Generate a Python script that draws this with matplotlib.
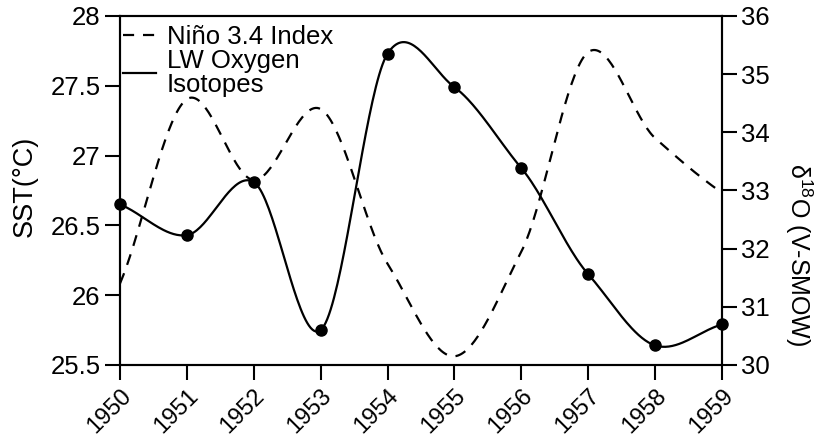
import numpy as np
import matplotlib
matplotlib.use("Agg")
import matplotlib.pyplot as plt

plt.rcParams['font.family'] = ['Liberation Sans', 'DejaVu Sans']

years = [1950, 1951, 1952, 1953, 1954, 1955, 1956, 1957, 1958, 1959]
# SST (left axis), plotted with dots
sst = [26.65, 26.43, 26.81, 25.75, 27.73, 27.49, 26.91, 26.15, 25.64, 25.79]
# delta 18O (right axis), dashed
d18o = [31.40, 34.57, 33.18, 34.40, 31.74, 30.15, 31.95, 35.38, 33.90, 32.96]


def smooth(x, y, n=40, k=0.85):
    # cardinal spline between the yearly points (k scales the tangents)
    x = np.asarray(x, float)
    y = np.asarray(y, float)
    m = np.zeros_like(y)
    m[1:-1] = (y[2:] - y[:-2]) / (x[2:] - x[:-2])
    m[0] = (y[1] - y[0]) / (x[1] - x[0])
    m[-1] = (y[-1] - y[-2]) / (x[-1] - x[-2])
    m = m * k
    xs, ys = [], []
    for i in range(len(x) - 1):
        h = x[i + 1] - x[i]
        t = np.linspace(0, 1, n, endpoint=(i == len(x) - 2))
        h00 = 2 * t**3 - 3 * t**2 + 1
        h10 = t**3 - 2 * t**2 + t
        h01 = -2 * t**3 + 3 * t**2
        h11 = t**3 - t**2
        xs.append(x[i] + t * h)
        ys.append(h00 * y[i] + h10 * h * m[i] + h01 * y[i + 1] + h11 * h * m[i + 1])
    return np.concatenate(xs), np.concatenate(ys)


fig = plt.figure(figsize=(8.19, 4.37), dpi=100)
ax = fig.add_axes([0.1465, 0.1648, 0.7351, 0.7986])
ax2 = ax.twinx()

xs, ys = smooth(years, sst)
l1, = ax.plot(xs, ys, color='black', lw=1.6)
ax.plot(years, sst, 'o', color='black', ms=8, clip_on=False, zorder=5)

xs2, ys2 = smooth(years, d18o)
l2, = ax2.plot(xs2, ys2, color='black', lw=1.6, linestyle=(0, (5, 4)))

ax.set_xlim(1950, 1959)
ax.set_ylim(25.5, 28)
ax2.set_ylim(30, 36)
ax.set_xticks(years)
ax.set_xticklabels([str(y) for y in years], rotation=45, ha='right',
                   va='top', rotation_mode='anchor')
ax.set_yticks([25.5, 26, 26.5, 27, 27.5, 28])
ax.set_yticklabels(['25.5', '26', '26.5', '27', '27.5', '28'])
ax2.set_yticks([30, 31, 32, 33, 34, 35, 36])

for a in (ax, ax2):
    for s in a.spines.values():
        s.set_linewidth(1.5)
    a.tick_params(direction='out', length=11, width=1.5, labelsize=18.5, pad=3)
ax.tick_params(axis='x', pad=3, labelsize=17)

fig.text(0.0305, 0.574, 'SST(°C)', fontsize=19.5, rotation=90,
         ha='center', va='center')
fig.text(0.975, 0.416, 'δ$^{\\mathregular{18}}$O (V-SMOW)', fontsize=18, rotation=270,
         ha='center', va='center')

leg = ax.legend([l2, l1], ['Niño 3.4 Index', 'LW Oxygen\nIsotopes'], loc='upper left',
                bbox_to_anchor=(0.005, 0.975),
                frameon=False, fontsize=18.5, handlelength=1.3, handletextpad=0.4,
                borderaxespad=0.0, borderpad=0.0, labelspacing=0.0)
for t in leg.get_texts():
    t.set_linespacing(1.0)

fig.savefig('out.png', dpi=100)
